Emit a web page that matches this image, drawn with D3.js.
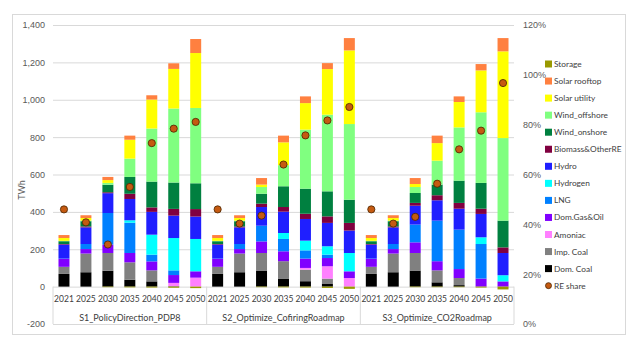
<!DOCTYPE html>
<html>
<head>
<meta charset="utf-8">
<script src="https://cdn.jsdelivr.net/npm/d3@7"></script>
<style>
  body { margin: 0; background: #fff; }
  svg { display: block; font-family: Lato, "Open Sans", sans-serif; }
  .tick text { fill: #595959; font-size: 9px; }
  .grid .tick line { stroke: #d9d9d9; }
</style>
</head>
<body>
<div class="chart"></div>
<script>
// scenarios and years
var groups = ["S1_PolicyDirection_PDP8", "S2_Optimize_CofiringRoadmap", "S3_Optimize_CO2Roadmap"];
var years = ["2021", "2025", "2030", "2035", "2040", "2045", "2050"];

// TWh per technology, S1 years then S2 years then S3 years
var domCoal   = [68, 77, 85, 37, 28, 2, 0,      68, 77, 86, 41, 29, 14, 0,      68, 77, 86, 23, 8, 0, 0];
var impCoal   = [38, 100, 95, 93, 59, 0, 0,     38, 100, 94, 95, 62, 29, 0,     38, 100, 94, 64, 38, 0, 0];
var amoniac   = [0, 0, 0, 0, 0, 18, 48,         0, 0, 0, 0, 9, 66, 46,          0, 0, 0, 0, 0, 0, 0];
var domGasOil = [42, 24, 45, 50, 48, 42, 34,    42, 24, 62, 53, 50, 44, 36,     42, 24, 57, 49, 48, 43, 28];
var lng       = [2, 27, 169, 162, 36, 25, 0,    2, 27, 84, 66, 44, 18, 0,       2, 27, 95, 217, 211, 185, 0];
var hydrogen  = [0, 0, 0, 13, 107, 173, 173,    0, 0, 0, 32, 52, 45, 98,        0, 0, 0, 0, 0, 36, 33];
var hydro     = [75, 89, 106, 114, 122, 120, 120, 75, 89, 100, 114, 116, 125, 120, 75, 89, 101, 109, 112, 125, 119];
var biomass   = [3, 5, 5, 28, 24, 36, 40,       3, 5, 18, 25, 28, 35, 41,       3, 5, 15, 27, 31, 28, 30];
var windOn    = [15, 28, 40, 90, 138, 141, 138, 15, 28, 53, 111, 134, 134, 124, 15, 28, 53, 57, 119, 138, 143];
var windOff   = [2, 3, 10, 98, 284, 396, 403,   2, 3, 36, 113, 316, 410, 405,   2, 3, 32, 128, 285, 378, 442];
var solarUtil = [15, 14, 15, 101, 155, 212, 294, 15, 14, 13, 122, 142, 244, 394, 15, 14, 16, 94, 136, 224, 464];
var solarRoof = [16, 15, 17, 22, 23, 30, 75,    16, 15, 35, 36, 36, 32, 66,     16, 15, 32, 40, 30, 34, 71];
var storage   = [0, 0, -3, -4, -5, -6, -8,      0, 0, -3, -4, -5, -7, -12,      0, 0, -3, -3, -3, -5, -15];

// RE share, %
var reShare = [46, 40.8, 31.9, 55, 72.6, 78.4, 81.1,
               46, 40.3, 43.5, 64, 75.7, 81.7, 87.1,
               46, 40.3, 43, 56.3, 70.1, 77.6, 96.7];

var series = [
  { key: "Dom. Coal", values: domCoal, color: "#000000" },
  { key: "Imp. Coal", values: impCoal, color: "#808080" },
  { key: "Amoniac", values: amoniac, color: "#ff80ff" },
  { key: "Dom.Gas&Oil", values: domGasOil, color: "#8000ff" },
  { key: "LNG", values: lng, color: "#0080ff" },
  { key: "Hydrogen", values: hydrogen, color: "#00ffff" },
  { key: "Hydro", values: hydro, color: "#1f1fff" },
  { key: "Biomass&OtherRE", values: biomass, color: "#800040" },
  { key: "Wind_onshore", values: windOn, color: "#008040" },
  { key: "Wind_offshore", values: windOff, color: "#80ff80" },
  { key: "Solar utility", values: solarUtil, color: "#ffff00" },
  { key: "Solar rooftop", values: solarRoof, color: "#ff8040" },
  { key: "Storage", values: storage, color: "#999900" }
];

var width = 639, height = 346;
var plotL = 53, plotR = 514, plotT = 25, plotB = 324;

var svg = d3.select(".chart").append("svg")
  .attr("width", width)
  .attr("height", height);

svg.append("rect")
  .attr("x", 12.5).attr("y", 14.5)
  .attr("width", 613).attr("height", 320)
  .attr("fill", "#fff")
  .attr("stroke", "#d9d9d9");

var cats = [];
groups.forEach(function (g, gi) {
  years.forEach(function (yr, yi) { cats.push({ id: gi * 7 + yi, group: g, year: yr }); });
});

var rows = cats.map(function (c) {
  var r = { id: c.id };
  series.forEach(function (s) { r[s.key] = s.values[c.id]; });
  return r;
});

var x = d3.scaleBand()
  .domain(cats.map(function (c) { return c.id; }))
  .range([plotL, plotR])
  .paddingInner(0.5)
  .paddingOuter(0.25);

var y = d3.scaleLinear().domain([-200, 1400]).range([plotB, plotT]);
var yR = d3.scaleLinear().domain([0, 1.2]).range([plotB, plotT]);

var fmt = d3.formatLocale({ decimal: ".", thousands: ",", grouping: [3], currency: ["", ""], minus: "-" });

// gridlines + left axis
var gAxis = svg.append("g")
  .attr("class", "grid")
  .attr("transform", "translate(" + plotL + ",0)")
  .call(d3.axisLeft(y).tickValues(d3.range(-200, 1401, 200))
    .tickSize(-(plotR - plotL)).tickPadding(8).tickFormat(fmt.format(",")));
gAxis.select(".domain").remove();

var gRight = svg.append("g")
  .attr("transform", "translate(" + plotR + ",0)")
  .call(d3.axisRight(yR).tickValues(d3.range(0, 1.21, 0.2))
    .tickSize(0).tickPadding(9).tickFormat(d3.format(".0%")));
gRight.select(".domain").remove();

svg.append("text")
  .attr("transform", "translate(25,190) rotate(-90)")
  .attr("text-anchor", "middle")
  .attr("font-size", 9)
  .attr("fill", "#595959")
  .text("TWh");

// stacked bars
var stack = d3.stack()
  .keys(series.map(function (s) { return s.key; }))
  .offset(d3.stackOffsetDiverging);

var layers = svg.append("g").selectAll("g")
  .data(stack(rows))
  .enter().append("g")
  .attr("fill", function (d, i) { return series[i].color; });

layers.selectAll("rect")
  .data(function (d) { return d; })
  .enter().append("rect")
  .attr("x", function (d) { return x(d.data.id); })
  .attr("width", x.bandwidth())
  .attr("y", function (d) { return y(Math.max(d[0], d[1])); })
  .attr("height", function (d) { return Math.abs(y(d[0]) - y(d[1])); });

// category axis
var cat = svg.append("g");
cat.selectAll("text.year")
  .data(cats)
  .enter().append("text")
  .attr("class", "year")
  .attr("x", function (d) { return x(d.id) + x.bandwidth() / 2; })
  .attr("y", 302)
  .attr("text-anchor", "middle")
  .attr("font-size", 8.5)
  .attr("fill", "#404040")
  .text(function (d) { return d.year; });

var step = x.step();
var bounds = [0, 7, 14, 21].map(function (i) { return plotL + i * step; });
cat.selectAll("line.sep")
  .data(bounds)
  .enter().append("line")
  .attr("x1", function (d) { return d; })
  .attr("x2", function (d) { return d; })
  .attr("y1", y(0))
  .attr("y2", plotB)
  .attr("stroke", "#d9d9d9");

cat.selectAll("text.group")
  .data(groups)
  .enter().append("text")
  .attr("x", function (d, i) { return (bounds[i] + bounds[i + 1]) / 2; })
  .attr("y", 321)
  .attr("text-anchor", "middle")
  .attr("font-size", 9)
  .attr("fill", "#404040")
  .text(function (d) { return d; });

// RE share dots
svg.append("g").selectAll("circle")
  .data(cats)
  .enter().append("circle")
  .attr("cx", function (d) { return x(d.id) + x.bandwidth() / 2; })
  .attr("cy", function (d) { return yR(reShare[d.id] / 100); })
  .attr("r", 3.6)
  .attr("fill", "#c55a11")
  .attr("stroke", "#4a2400")
  .attr("stroke-width", 0.8);

// legend
var legendItems = series.slice().reverse().map(function (s) { return { key: s.key, color: s.color }; });
legendItems.push({ key: "RE share", color: "#c55a11", dot: true });

var legend = svg.append("g").selectAll("g")
  .data(legendItems)
  .enter().append("g")
  .attr("transform", function (d, i) { return "translate(545," + (64 + i * 17.05) + ")"; });

legend.filter(function (d) { return !d.dot; }).append("rect")
  .attr("x", 0).attr("y", -3.5)
  .attr("width", 7).attr("height", 7)
  .attr("fill", function (d) { return d.color; });

legend.filter(function (d) { return d.dot; }).append("circle")
  .attr("cx", 3.5).attr("cy", 0).attr("r", 3)
  .attr("fill", "#c55a11")
  .attr("stroke", "#4a2400")
  .attr("stroke-width", 0.8);

legend.append("text")
  .attr("x", 9).attr("y", 3)
  .attr("font-size", 8.3)
  .attr("fill", "#404040")
  .text(function (d) { return d.key; });
</script>
</body>
</html>
